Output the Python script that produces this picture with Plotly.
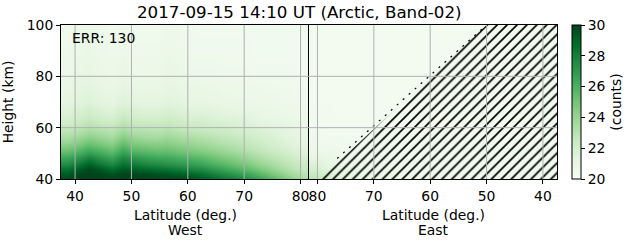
import plotly.graph_objects as go

# ---------------- data ----------------
lat_centers = [38.5, 40.5, 42.5, 44.5, 46.5, 48.5, 50.5, 52.5, 54.5, 56.5, 58.5,
               60.5, 62.5, 64.5, 66.5, 68.5, 70.5, 72.5, 74.5, 76.5, 78.5, 80.5]
heights = [40, 42, 44, 46, 48, 50, 52, 54, 56, 58, 60, 64, 70, 80, 90, 100]

west_counts = [
    [29.8, 30.0, 30.0, 30.0, 30.0, 30.0, 30.0, 30.0, 30.0, 30.0, 30.0, 29.8, 29.4, 28.9, 28.4, 28.0, 27.5, 26.8, 26.0, 25.2, 24.3, 23.5],
    [29.3, 29.9, 30.0, 30.0, 29.6, 30.0, 29.9, 29.8, 29.6, 29.5, 29.2, 28.9, 28.5, 28.0, 27.5, 27.0, 26.5, 25.8, 25.0, 24.3, 23.6, 23.0],
    [28.5, 29.2, 29.9, 29.4, 28.7, 29.4, 29.1, 28.8, 28.6, 28.4, 28.1, 27.8, 27.5, 27.0, 26.5, 26.0, 25.5, 24.9, 24.2, 23.6, 23.0, 22.5],
    [27.5, 28.2, 29.0, 28.3, 27.6, 28.5, 28.1, 27.7, 27.5, 27.3, 27.0, 26.8, 26.5, 26.0, 25.6, 25.1, 24.7, 24.1, 23.6, 23.1, 22.6, 22.2],
    [26.5, 27.1, 27.9, 27.3, 26.6, 27.7, 27.1, 26.7, 26.5, 26.4, 26.1, 25.9, 25.6, 25.2, 24.8, 24.4, 24.0, 23.5, 23.0, 22.6, 22.2, 21.9],
    [25.6, 26.1, 26.8, 26.3, 25.7, 26.8, 26.1, 25.8, 25.6, 25.6, 25.3, 25.1, 24.8, 24.5, 24.1, 23.8, 23.4, 23.0, 22.6, 22.2, 21.8, 21.6],
    [24.8, 25.3, 25.9, 25.5, 25.0, 26.0, 25.3, 25.1, 24.9, 25.0, 24.7, 24.4, 24.2, 23.9, 23.6, 23.3, 22.9, 22.6, 22.2, 21.9, 21.6, 21.4],
    [24.1, 24.5, 25.1, 24.7, 24.3, 25.3, 24.6, 24.4, 24.3, 24.4, 24.1, 23.9, 23.7, 23.4, 23.1, 22.9, 22.6, 22.3, 22.0, 21.7, 21.4, 21.2],
    [23.5, 23.9, 24.4, 24.1, 23.7, 24.6, 24.0, 23.8, 23.7, 23.9, 23.6, 23.4, 23.2, 23.0, 22.8, 22.6, 22.3, 22.0, 21.8, 21.5, 21.3, 21.1],
    [23.0, 23.3, 23.8, 23.5, 23.2, 24.0, 23.4, 23.3, 23.2, 23.4, 23.1, 22.9, 22.8, 22.6, 22.4, 22.2, 22.0, 21.8, 21.6, 21.4, 21.2, 21.0],
    [22.5, 22.8, 23.2, 22.9, 22.7, 23.4, 22.9, 22.8, 22.7, 22.9, 22.6, 22.4, 22.4, 22.2, 22.1, 21.9, 21.8, 21.6, 21.4, 21.3, 21.1, 20.9],
    [21.8, 22.0, 22.3, 22.0, 21.8, 22.4, 22.0, 21.9, 21.9, 22.1, 21.9, 21.7, 21.7, 21.6, 21.5, 21.4, 21.3, 21.1, 21.0, 20.9, 20.8, 20.7],
    [21.2, 21.4, 21.6, 21.3, 21.2, 21.5, 21.3, 21.2, 21.2, 21.4, 21.3, 21.1, 21.1, 21.0, 20.9, 20.9, 20.8, 20.8, 20.7, 20.7, 20.6, 20.6],
    [20.8, 21.0, 21.1, 20.9, 20.8, 21.0, 20.8, 20.8, 20.8, 21.0, 20.9, 20.7, 20.7, 20.7, 20.6, 20.6, 20.6, 20.5, 20.5, 20.5, 20.5, 20.4],
    [20.6, 20.8, 20.9, 20.7, 20.6, 20.8, 20.6, 20.6, 20.6, 20.8, 20.7, 20.5, 20.5, 20.5, 20.5, 20.5, 20.5, 20.4, 20.4, 20.4, 20.4, 20.4],
    [20.5, 20.7, 20.8, 20.6, 20.5, 20.6, 20.5, 20.5, 20.5, 20.7, 20.6, 20.5, 20.4, 20.4, 20.4, 20.4, 20.4, 20.4, 20.4, 20.4, 20.4, 20.4],
]

east_counts = [
    [20.5, 20.5, 20.5, 20.5, 20.5, 20.5, 20.5, 20.5, 20.5, 20.5, 20.5, 20.6, 20.6, 20.7, 20.7, 20.8, 20.9, 21.0, 21.2, 21.5, 22.2, 23.0],
    [20.5, 20.5, 20.5, 20.5, 20.5, 20.5, 20.5, 20.5, 20.5, 20.5, 20.5, 20.5, 20.6, 20.6, 20.7, 20.7, 20.8, 20.9, 21.1, 21.3, 21.8, 22.5],
    [20.4, 20.4, 20.4, 20.4, 20.4, 20.4, 20.4, 20.4, 20.4, 20.5, 20.5, 20.5, 20.5, 20.6, 20.6, 20.6, 20.7, 20.8, 20.9, 21.1, 21.5, 22.0],
    [20.4, 20.4, 20.4, 20.4, 20.4, 20.4, 20.4, 20.4, 20.4, 20.4, 20.4, 20.5, 20.5, 20.5, 20.5, 20.6, 20.6, 20.7, 20.8, 20.9, 21.2, 21.6],
    [20.4, 20.4, 20.4, 20.4, 20.4, 20.4, 20.4, 20.4, 20.4, 20.4, 20.4, 20.4, 20.5, 20.5, 20.5, 20.5, 20.6, 20.6, 20.7, 20.8, 21.0, 21.2],
    [20.4, 20.4, 20.4, 20.4, 20.4, 20.4, 20.4, 20.4, 20.4, 20.4, 20.4, 20.4, 20.4, 20.4, 20.5, 20.5, 20.5, 20.5, 20.6, 20.7, 20.8, 20.9],
    [20.4, 20.4, 20.4, 20.4, 20.4, 20.4, 20.4, 20.4, 20.4, 20.4, 20.4, 20.4, 20.4, 20.4, 20.4, 20.4, 20.5, 20.5, 20.5, 20.6, 20.7, 20.7],
    [20.3, 20.3, 20.3, 20.3, 20.3, 20.3, 20.3, 20.3, 20.3, 20.4, 20.4, 20.4, 20.4, 20.4, 20.4, 20.4, 20.4, 20.4, 20.5, 20.5, 20.6, 20.6],
    [20.3, 20.3, 20.3, 20.3, 20.3, 20.3, 20.3, 20.3, 20.3, 20.3, 20.3, 20.3, 20.4, 20.4, 20.4, 20.4, 20.4, 20.4, 20.4, 20.5, 20.5, 20.5],
    [20.3, 20.3, 20.3, 20.3, 20.3, 20.3, 20.3, 20.3, 20.3, 20.3, 20.3, 20.3, 20.3, 20.3, 20.3, 20.4, 20.4, 20.4, 20.4, 20.4, 20.4, 20.5],
    [20.3, 20.3, 20.3, 20.3, 20.3, 20.3, 20.3, 20.3, 20.3, 20.3, 20.3, 20.3, 20.3, 20.3, 20.3, 20.3, 20.3, 20.4, 20.4, 20.4, 20.4, 20.4],
    [20.3, 20.3, 20.3, 20.3, 20.3, 20.3, 20.3, 20.3, 20.3, 20.3, 20.3, 20.3, 20.3, 20.3, 20.3, 20.3, 20.3, 20.3, 20.3, 20.3, 20.4, 20.4],
    [20.3, 20.3, 20.3, 20.3, 20.3, 20.3, 20.3, 20.3, 20.3, 20.3, 20.3, 20.3, 20.3, 20.3, 20.3, 20.3, 20.3, 20.3, 20.3, 20.3, 20.3, 20.3],
    [20.3, 20.3, 20.3, 20.3, 20.3, 20.3, 20.3, 20.3, 20.3, 20.3, 20.3, 20.3, 20.3, 20.3, 20.3, 20.3, 20.3, 20.3, 20.3, 20.3, 20.3, 20.3],
    [20.3, 20.3, 20.3, 20.3, 20.3, 20.3, 20.3, 20.3, 20.3, 20.3, 20.3, 20.3, 20.3, 20.3, 20.3, 20.3, 20.3, 20.3, 20.3, 20.3, 20.3, 20.3],
    [20.3, 20.3, 20.3, 20.3, 20.3, 20.3, 20.3, 20.3, 20.3, 20.3, 20.3, 20.3, 20.3, 20.3, 20.3, 20.3, 20.3, 20.3, 20.3, 20.3, 20.3, 20.3],
]

# masked (hatched) region on the East side: boundary polygon (lat, height)
mask_lat = [79.6, 50.0, 37.0, 37.0]
mask_height = [40, 100, 100, 40]
mask_edge_lat = [76.5, 50.0]
mask_edge_height = [48, 100]

lat_ticks = [40, 50, 60, 70, 80]
height_ticks = [40, 60, 80, 100]
cbar_ticks = [20, 22, 24, 26, 28, 30]
lat_range = [37.5, 81.5]
height_range = [40, 100]

title_text = "2017-09-15 14:10 UT (Arctic, Band-02)"
err_text = "ERR: 130"

# ---------------- style ----------------
FONT = "DejaVu Sans"
greens = [
    [0.0, "#f7fcf5"], [0.125, "#e5f5e0"], [0.25, "#c7e9c0"], [0.375, "#a1d99b"],
    [0.5, "#74c476"], [0.625, "#41ab5d"], [0.75, "#238b45"], [0.875, "#006d2c"],
    [1.0, "#00441b"],
]
W, H = 631, 243
L, R, T, B = 61, 557, 25, 179

fig = go.Figure()

fig.add_trace(go.Heatmap(
    x=lat_centers, y=heights, z=west_counts, xaxis="x", yaxis="y",
    colorscale=greens, zmin=20, zmax=30, zsmooth="best",
    colorbar=dict(
        thickness=9, len=1, lenmode="fraction", y=0.5, yanchor="middle", ypad=0,
        x=(572 - L) / (R - L), xanchor="left", xpad=0,
        outlinecolor="black", outlinewidth=1,
        tickvals=cbar_ticks, ticks="outside", ticklen=4, tickcolor="black",
        tickfont=dict(family=FONT, size=13.9, color="black"),
        title=dict(text="(counts)", side="right",
                   font=dict(family=FONT, size=13.9, color="black")),
    ),
    showscale=True,
))
fig.add_trace(go.Heatmap(
    x=lat_centers, y=heights, z=east_counts, xaxis="x2", yaxis="y2",
    colorscale=greens, zmin=20, zmax=30, zsmooth="best", showscale=False,
))
fig.add_trace(go.Scatter(
    x=mask_lat, y=mask_height, xaxis="x2", yaxis="y2",
    mode="none", fill="toself", fillcolor="rgba(0,0,0,0)",
    fillpattern=dict(shape="/", fgcolor="black", bgcolor="rgba(0,0,0,0)",
                     size=7, solidity=0.24, fillmode="replace"),
    showlegend=False, hoverinfo="skip",
))
fig.add_trace(go.Scatter(
    x=mask_edge_lat, y=mask_edge_height, xaxis="x2", yaxis="y2",
    mode="lines", line=dict(color="black", width=1.2, dash="2px,6px"),
    showlegend=False, hoverinfo="skip",
))

# grid lines drawn above the images (like matplotlib)
shapes = []
grid = dict(color="#b0b0b0", width=1)
for xr in ("x", "x2"):
    for t in lat_ticks:
        shapes.append(dict(type="line", xref=xr, x0=t, x1=t,
                           yref="paper", y0=0, y1=1, line=grid, layer="above"))
for xr, yr in (("x domain", "y"), ("x2 domain", "y2")):
    for t in height_ticks[1:-1]:
        shapes.append(dict(type="line", xref=xr, x0=0, x1=1,
                           yref=yr, y0=t, y1=t, line=grid, layer="above"))

axis_common = dict(
    showline=True, linecolor="black", linewidth=1, mirror=True,
    ticks="outside", ticklen=4, tickcolor="black", tickwidth=1,
    showgrid=False, zeroline=False,
    tickfont=dict(family=FONT, size=13.9, color="black"),
)

fig.update_layout(
    width=W, height=H,
    margin=dict(l=L, r=W - R, t=T, b=H - B, autoexpand=False),
    paper_bgcolor="white", plot_bgcolor="white",
    showlegend=False,
    font=dict(family=FONT, color="black"),
    xaxis=dict(domain=[0, 0.5], range=lat_range, tickvals=lat_ticks,
               anchor="y", **axis_common),
    xaxis2=dict(domain=[0.5, 1], range=lat_range[::-1], tickvals=lat_ticks,
                anchor="y2", **axis_common),
    yaxis=dict(domain=[0, 1], range=height_range, tickvals=height_ticks,
               anchor="x",
               title=dict(text="Height (km)", standoff=10,
                          font=dict(family=FONT, size=13.9, color="black")),
               **axis_common),
    yaxis2=dict(domain=[0, 1], range=height_range, tickvals=height_ticks,
                anchor="x2", showticklabels=False,
                **{k: v for k, v in axis_common.items() if k not in ("ticks",)},
                ticks=""),
    shapes=shapes,
    annotations=[
        dict(text=title_text, xref="paper", yref="paper",
             x=(299 - L) / (R - L), y=1 + (T - 12) / (B - T),
             xanchor="center", yanchor="middle", showarrow=False,
             font=dict(family=FONT, size=16.7, color="black")),
        dict(text=err_text, xref="x domain", yref="y domain",
             x=(70 - L) / (309 - L), y=(B - 38) / (B - T),
             xanchor="left", yanchor="middle", showarrow=False,
             font=dict(family=FONT, size=13.9, color="black")),
        dict(text="Latitude (deg.)", xref="x domain", yref="paper",
             x=0.5, y=-(215 - B) / (B - T), xanchor="center", yanchor="middle",
             showarrow=False, font=dict(family=FONT, size=13.9, color="black")),
        dict(text="West", xref="x domain", yref="paper",
             x=0.5, y=-(230 - B) / (B - T), xanchor="center", yanchor="middle",
             showarrow=False, font=dict(family=FONT, size=13.9, color="black")),
        dict(text="Latitude (deg.)", xref="x2 domain", yref="paper",
             x=0.5, y=-(215 - B) / (B - T), xanchor="center", yanchor="middle",
             showarrow=False, font=dict(family=FONT, size=13.9, color="black")),
        dict(text="East", xref="x2 domain", yref="paper",
             x=0.5, y=-(230 - B) / (B - T), xanchor="center", yanchor="middle",
             showarrow=False, font=dict(family=FONT, size=13.9, color="black")),
    ],
)

fig.write_html("out.html")
